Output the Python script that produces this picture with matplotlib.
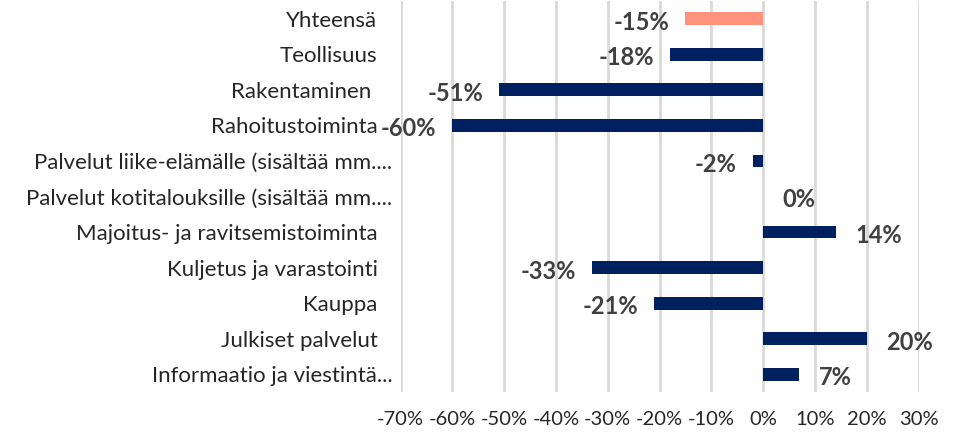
import matplotlib
matplotlib.use("Agg")
import matplotlib.pyplot as plt
import matplotlib.transforms as mtransforms
from matplotlib.ticker import FuncFormatter

# data (top to bottom as in the chart)
categories = [
    "Yhteensä",
    "Teollisuus",
    "Rakentaminen",
    "Rahoitustoiminta",
    "Palvelut liike-elämälle (sisältää mm....",
    "Palvelut kotitalouksille (sisältää mm....",
    "Majoitus- ja ravitsemistoiminta",
    "Kuljetus ja varastointi",
    "Kauppa",
    "Julkiset palvelut",
    "Informaatio ja viestintä...",
]
changes = [-15, -18, -51, -60, -2, 0, 14, -33, -21, 20, 7]
x_ticks = [-70, -60, -50, -40, -30, -20, -10, 0, 10, 20, 30]

navy = "#002060"
salmon = "#FF927D"
label_color = "#404040"
colors = [salmon] + [navy] * (len(categories) - 1)

plt.rcParams["font.family"] = ["Lato", "DejaVu Sans"]

fig = plt.figure(figsize=(9.61, 4.37), dpi=100)
ax = fig.add_axes([400.5 / 961, 1 - 392 / 437, 518 / 961, 391 / 437])

ypos = list(range(len(categories)))
ax.barh(ypos, changes, height=0.36, color=colors, zorder=3)

ax.set_xlim(-70, 30)
ax.set_ylim(len(categories) - 0.5, -0.5)
ax.set_xticks(x_ticks)
ax.xaxis.set_major_formatter(FuncFormatter(lambda v, p: f"{v:.0f}%"))
ax.set_yticks(ypos)
ax.set_yticklabels(categories)
ax.tick_params(axis="x", length=0, pad=14, labelsize=14.5, labelcolor="#262626")
ax.tick_params(axis="y", length=0, pad=16.5, labelsize=16, labelcolor="#262626")
ax.grid(axis="x", color="#D9D9D9", linewidth=2, zorder=0)
for s in ax.spines.values():
    s.set_visible(False)

# truncated labels reach further right, like in the original
for lbl in ax.get_yticklabels():
    txt = lbl.get_text()
    shift = 0
    if txt.endswith("..."):
        shift = 15
    elif txt == "Rakentaminen":
        shift = -6
    if shift:
        lbl.set_transform(lbl.get_transform() +
                          mtransforms.ScaledTranslation(shift / 100, 0, fig.dpi_scale_trans))

# data labels
for y, v in zip(ypos, changes):
    if v < 0:
        ax.annotate(f"{v}%", xy=(v, y), xytext=(-11.5, -2.5), textcoords="offset points",
                    ha="right", va="center", fontsize=17, fontweight="bold",
                    color=label_color, zorder=4)
    else:
        ax.annotate(f"{v}%", xy=(v, y), xytext=(14, -2.5), textcoords="offset points",
                    ha="left", va="center", fontsize=17, fontweight="bold",
                    color=label_color, zorder=4)

fig.savefig("out.png", dpi=100)
